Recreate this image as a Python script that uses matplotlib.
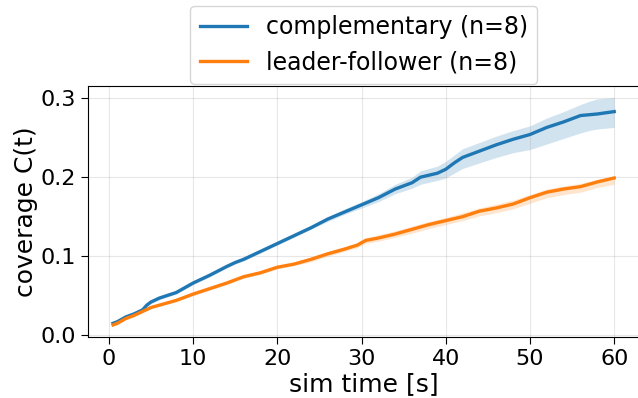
import matplotlib
matplotlib.use("Agg")
import matplotlib.pyplot as plt

# complementary (n=8): mean and band
comp_t = [0.5, 1, 2, 3, 4, 4.5, 5, 6, 8, 10, 12, 14, 15, 16, 18, 20, 22, 24, 26, 28,
          30, 32, 34, 36, 37, 39, 40, 41, 42, 44, 46, 48, 50, 52, 54, 56, 57, 58, 60]
comp_mean = [0.015, 0.017, 0.023, 0.027, 0.032, 0.038, 0.042, 0.047, 0.054, 0.066,
             0.076, 0.087, 0.092, 0.096, 0.106, 0.116, 0.126, 0.136, 0.147, 0.156,
             0.165, 0.174, 0.185, 0.193, 0.200, 0.205, 0.210, 0.218, 0.225, 0.233,
             0.241, 0.248, 0.254, 0.263, 0.270, 0.278, 0.279, 0.280, 0.283]
comp_lo = [0.014, 0.016, 0.022, 0.026, 0.031, 0.036, 0.040, 0.045, 0.052, 0.064,
           0.074, 0.085, 0.090, 0.094, 0.104, 0.114, 0.124, 0.134, 0.144, 0.153,
           0.161, 0.169, 0.179, 0.186, 0.191, 0.196, 0.199, 0.205, 0.211, 0.218,
           0.225, 0.231, 0.235, 0.242, 0.249, 0.256, 0.259, 0.261, 0.263]
comp_hi = [0.016, 0.018, 0.024, 0.028, 0.033, 0.040, 0.044, 0.049, 0.056, 0.068,
           0.078, 0.089, 0.094, 0.098, 0.108, 0.118, 0.128, 0.138, 0.150, 0.160,
           0.169, 0.179, 0.191, 0.200, 0.208, 0.214, 0.220, 0.228, 0.236, 0.244,
           0.252, 0.259, 0.265, 0.275, 0.283, 0.292, 0.296, 0.299, 0.301]

# leader-follower (n=8)
lf_t = [0.5, 1, 2, 3, 4, 5, 6, 8, 10, 12, 14, 16, 18, 20, 22, 24, 26, 28, 29.5, 30.5,
        32, 34, 36, 38, 40, 42, 44, 46, 48, 50, 52, 54, 56, 58, 60]
lf_mean = [0.013, 0.015, 0.021, 0.025, 0.030, 0.035, 0.038, 0.044, 0.052, 0.059,
           0.066, 0.074, 0.079, 0.086, 0.090, 0.096, 0.103, 0.109, 0.114, 0.120,
           0.123, 0.128, 0.134, 0.140, 0.145, 0.150, 0.157, 0.161, 0.166, 0.174,
           0.181, 0.185, 0.188, 0.194, 0.199]
lf_lo = [0.012, 0.014, 0.020, 0.024, 0.029, 0.034, 0.037, 0.043, 0.050, 0.057,
         0.064, 0.072, 0.077, 0.084, 0.088, 0.093, 0.100, 0.106, 0.111, 0.116,
         0.119, 0.124, 0.129, 0.135, 0.140, 0.145, 0.151, 0.155, 0.160, 0.167,
         0.174, 0.178, 0.181, 0.187, 0.191]
lf_hi = [0.014, 0.016, 0.022, 0.026, 0.031, 0.036, 0.039, 0.045, 0.054, 0.061,
         0.068, 0.076, 0.081, 0.088, 0.092, 0.099, 0.106, 0.112, 0.117, 0.123,
         0.127, 0.132, 0.138, 0.144, 0.149, 0.155, 0.161, 0.166, 0.171, 0.178,
         0.185, 0.189, 0.192, 0.197, 0.201]

fig = plt.figure(figsize=(6.38, 3.98), dpi=100)
ax = fig.add_axes([0.138, 0.153, 0.864, 0.631])

ax.fill_between(comp_t, comp_lo, comp_hi, color="tab:blue", alpha=0.2, linewidth=0)
ax.plot(comp_t, comp_mean, color="tab:blue", lw=2.4, label="complementary (n=8)")
ax.fill_between(lf_t, lf_lo, lf_hi, color="tab:orange", alpha=0.2, linewidth=0)
ax.plot(lf_t, lf_mean, color="tab:orange", lw=2.4, label="leader-follower (n=8)")

ax.set_xlabel("sim time [s]", fontsize=18, labelpad=2)
ax.set_ylabel("coverage C(t)", fontsize=18, labelpad=2)
ax.tick_params(labelsize=16, length=5)
ax.set_xticks([0, 10, 20, 30, 40, 50, 60])
ax.set_yticks([0.0, 0.1, 0.2, 0.3])
ax.grid(True, alpha=0.3)
ax.legend(loc="lower center", bbox_to_anchor=(0.5, 0.96), fontsize=17)

fig.savefig("out.png", dpi=100)
